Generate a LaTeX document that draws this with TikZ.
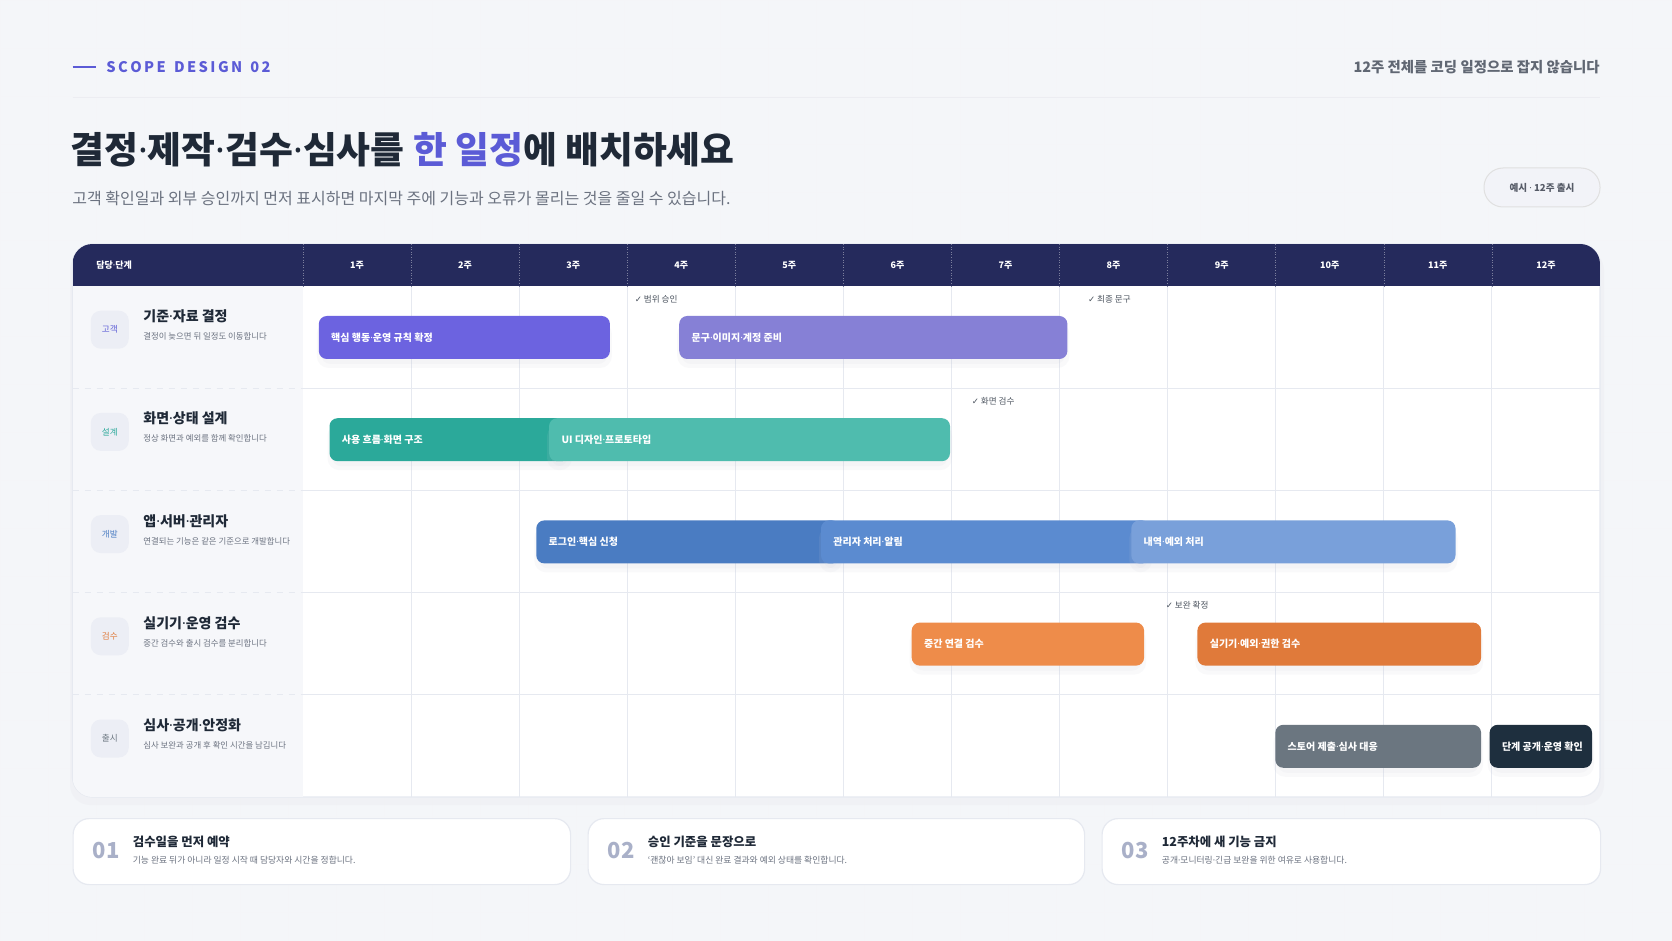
\documentclass[tikz,border=0pt]{standalone}
\usepackage{fontspec}
\setmainfont{Noto Sans CJK KR}
\newfontfamily\sym{DejaVu Sans}
\newfontfamily\lat{Noto Sans}
\newcommand{\md}{{\lat ·}}
\definecolor{bg}{HTML}{F4F6F9}
\definecolor{navy}{HTML}{252A5C}
\definecolor{accent}{HTML}{5B5BD6}
\definecolor{ink}{HTML}{1F2937}
\definecolor{mute}{HTML}{6B7280}
\definecolor{gridc}{HTML}{E6E9F0}
\definecolor{leftc}{HTML}{F6F7FA}
\definecolor{iconc}{HTML}{ECEEF5}
\definecolor{cP}{HTML}{6C63E0}\definecolor{cP2}{HTML}{8680D6}
\definecolor{cT}{HTML}{2BA99A}\definecolor{cT2}{HTML}{4FBCAE}
\definecolor{cB}{HTML}{4A7CC2}\definecolor{cB2}{HTML}{5B8BD0}\definecolor{cB3}{HTML}{79A0DA}
\definecolor{cO2}{HTML}{EE8C4A}\definecolor{cO}{HTML}{E07A3A}
\definecolor{cG}{HTML}{6B7680}\definecolor{cD}{HTML}{1E2F3E}
\definecolor{numc}{HTML}{A9B0C8}
\begin{document}
\begin{tikzpicture}[x=0.5pt,y=-0.5pt,
  bar/.style={rounded corners=4pt},
  barlbl/.style={anchor=west,text=white,font=\fontsize{5}{6}\selectfont\bfseries,inner sep=0},
  ms/.style={anchor=west,text=ink!80,font=\fontsize{4.3}{5}\selectfont,inner sep=0},
  wk/.style={text=white,font=\fontsize{4.5}{5}\selectfont\bfseries,inner sep=0},
  rtitle/.style={anchor=west,text=ink,font=\fontsize{7}{8}\selectfont\bfseries,inner sep=0},
  rsub/.style={anchor=west,text=mute,font=\fontsize{4.2}{5}\selectfont,inner sep=0},
  icon/.style={fill=iconc,rounded corners=5pt,minimum width=19pt,minimum height=19pt,inner sep=0,font=\fontsize{4.3}{5}\selectfont},
  card/.style={fill=white,draw=gridc,line width=0.6pt,rounded corners=8pt},
  num/.style={anchor=west,text=numc,font=\fontsize{11}{12}\selectfont\bfseries,inner sep=0},
  ctitle/.style={anchor=west,text=ink,font=\fontsize{6.2}{7}\selectfont\bfseries,inner sep=0},
  cdesc/.style={anchor=west,text=mute,font=\fontsize{4.4}{5}\selectfont,inner sep=0}]
\useasboundingbox (0,0) rectangle (1672,941);
\fill[bg] (0,0) rectangle (1672,941);
\foreach \g in {0,48,...,1672} \draw[gridc!45,line width=0.3pt] (\g,0) -- (\g,941);
\foreach \g in {0,48,...,941} \draw[gridc!45,line width=0.3pt] (0,\g) -- (1672,\g);
% header
\draw[accent,line width=1pt] (72.5,67) -- (96,67);
\node[anchor=west,inner sep=0,text=accent,font=\fontsize{7.3}{8}\selectfont\bfseries] (hd) at (106,67) {S\,C\,O\,P\,E\;\;D\,E\,S\,I\,G\,N\;\;0\,2};
\node[anchor=east,inner sep=0,text=mute!90!black,font=\fontsize{7.2}{8}\selectfont\bfseries] (hr) at (1600,67) {12주 전체를 코딩 일정으로 잡지 않습니다};
\draw[gridc!80!navy!30,line width=0.5pt] (72.5,98) -- (1600,98);
\node[anchor=west,inner sep=0,text=ink,font=\fontsize{18.4}{22}\selectfont\bfseries] (title) at (70,150) {결정\md{}제작\md{}검수\md{}심사를 \textcolor{accent}{한 일정}에 배치하세요};
\node[anchor=west,inner sep=0,text=mute,font=\fontsize{8}{10}\selectfont] (sub) at (72,198) {고객 확인일과 외부 승인까지 먼저 표시하면 마지막 주에 기능과 오류가 몰리는 것을 줄일 수 있습니다.};
\node[fill=iconc!70,draw=black!12,line width=0.5pt,rounded corners=9.5pt,minimum width=58pt,minimum height=19.5pt,inner sep=0,text=mute!80!black,font=\fontsize{4.8}{6}\selectfont\bfseries] (pill) at (1542,187.5) {예시 \md{} 12주 출시};
% table card
\fill[navy!10,opacity=0.35,rounded corners=10pt] (70,250) rectangle (1604,805);
\fill[white,rounded corners=10pt] (72.5,244) rectangle (1600,797);
\draw[gridc,line width=0.6pt,rounded corners=10pt] (72.5,244) rectangle (1600,797);
\begin{scope}
\clip[rounded corners=10pt] (72.5,244) rectangle (1600,797);
\fill[navy] (72.5,244) rectangle (1600,286);
\fill[leftc] (72.5,286) rectangle (303,797);
\end{scope}
\foreach \i in {1,...,11} \draw[gridc,line width=0.5pt] ({303+108.08*\i},286) -- ({303+108.08*\i},797);
\foreach \i in {0,...,11} \draw[white!40!navy,line width=0.3pt,densely dotted] ({303+108.08*\i},244) -- ({303+108.08*\i},286);
\foreach \y in {388.2,490.4,592.6,694.8} {\draw[gridc,line width=0.5pt] (303,\y) -- (1600,\y); \draw[gridc,line width=0.4pt,dashed] (72.5,\y) -- (303,\y);}
\node[wk,anchor=west] (h0) at (96,265) {담당\md{}단계};
\foreach \i in {1,...,12} \node[wk] (w\i) at ({303+108.08*(\i-0.5)},265) {{\i}주};
% left column
\foreach \n/\t/\lab/\col/\ttl/\ss in {1/286/고객/accent/기준\md{}자료 결정/결정이 늦으면 뒤 일정도 이동합니다,
  2/388.2/설계/cT/화면\md{}상태 설계/정상 화면과 예외를 함께 확인합니다,
  3/490.4/개발/cB/앱\md{}서버\md{}관리자/연결되는 기능은 같은 기준으로 개발합니다,
  4/592.6/검수/cO/실기기\md{}운영 검수/중간 검수와 출시 검수를 분리합니다,
  5/694.8/출시/cG/심사\md{}공개\md{}안정화/심사 보완과 공개 후 확인 시간을 남깁니다} {
  \node[icon,text=\col] (ic\n) at (109.8,\t+43.7) {\lab};
  \node[rtitle] (rt\n) at (143,\t+30.5) {\ttl};
  \node[rsub] (rs\n) at (143,\t+50.5) {\ss};
}
% bars: shadow + bar
\newcommand{\gbar}[6]{% name, x1, x2, rowtop, color, label
  \fill[navy!25,opacity=0.10,rounded corners=6pt] (#2-2,#4+36) rectangle (#3+2,#4+82);
  \fill[navy!25,opacity=0.10,rounded corners=5pt] (#2+2,#4+36) rectangle (#3-2,#4+78);
  \fill[#5,bar] (#2,#4+30) rectangle (#3,#4+73);
  \node[barlbl] (#1) at (#2+12,#4+51.5) {#6};}
\gbar{b1}{318.8}{609.9}{286}{cP}{핵심 행동\md{}운영 규칙 확정}
\gbar{b2}{679.2}{1067.4}{286}{cP2}{문구\md{}이미지\md{}계정 준비}
\gbar{b3}{329.5}{570}{388.2}{cT}{사용 흐름\md{}화면 구조}
\gbar{b4}{549.1}{950}{388.2}{cT2}{UI 디자인\md{}프로토타입}
\gbar{b5}{536.3}{840}{490.4}{cB}{로그인\md{}핵심 신청}
\gbar{b6}{821}{1150}{490.4}{cB2}{관리자 처리\md{}알림}
\gbar{b7}{1131.3}{1455.5}{490.4}{cB3}{내역\md{}예외 처리}
\gbar{b8}{911.7}{1144.1}{592.6}{cO2}{중간 연결 검수}
\gbar{b9}{1197.4}{1481.1}{592.6}{cO}{실기기\md{}예외\md{}권한 검수}
\gbar{b10}{1275.3}{1481.1}{694.8}{cG}{스토어 제출\md{}심사 대응}
\gbar{b11}{1489.6}{1592}{694.8}{cD}{단계 공개\md{}운영 확인}
\node[ms] (m1) at (634.4,299) {{\sym ✓} 범위 승인};
\node[ms] (m2) at (1087.6,299) {{\sym ✓} 최종 문구};
\node[ms] (m3) at (971.4,401.2) {{\sym ✓} 화면 검수};
\node[ms] (m4) at (1165.4,605.6) {{\sym ✓} 보완 확정};
% footer cards
\foreach \n/\a/\b/\ttl/\dd in {01/72.5/570/검수일을 먼저 예약/기능 완료 뒤가 아니라 일정 시작 때 담당자와 시간을 정합니다.,
  02/587.5/1084/승인 기준을 문장으로/‘괜찮아 보임’ 대신 완료 결과와 예외 상태를 확인합니다.,
  03/1101.5/1600/12주차에 새 기능 금지/공개\md{}모니터링\md{}긴급 보완을 위한 여유로 사용합니다.} {
  \node[card,minimum width={(\b-\a)*0.5pt},minimum height=33pt,anchor=north west,inner sep=0] (card\n) at (\a,818) {};
  \node[num] (n\n) at (\a+20,851) {\n};
  \node[ctitle] (ct\n) at (\a+60,842) {\ttl};
  \node[cdesc] (cd\n) at (\a+60,860) {\dd};
}
\end{tikzpicture}
\end{document}
